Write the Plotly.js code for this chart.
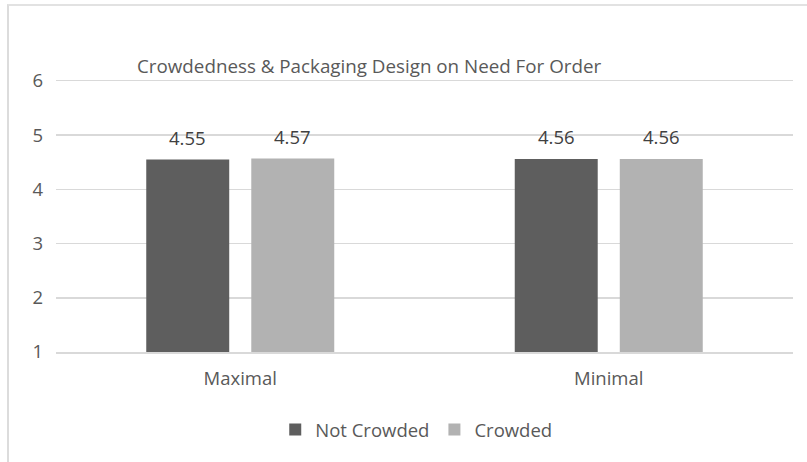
<!DOCTYPE html>
<html>
<head>
<meta charset="utf-8">
<script src="https://cdn.plot.ly/plotly-3.0.1.min.js"></script>
<style>
  html, body { margin: 0; padding: 0; background: #ffffff; }
  #wrap { position: relative; width: 807px; height: 462px; overflow: hidden; }
  #chart { position: absolute; left: 0; top: 0; width: 807px; height: 462px; }
  #frame { position: absolute; left: 7px; top: 4px; right: -4px; bottom: -4px;
           border-left: 2px solid #dcdcdc; border-top: 2px solid #e2e2e2; pointer-events: none; }
</style>
</head>
<body>
<div id="wrap">
  <div id="chart"></div>
  <div id="frame"></div>
</div>
<script>
// Packaging design categories and need-for-order means by crowdedness condition
const categories = ['Maximal', 'Minimal'];
const notCrowded = [4.55, 4.56];
const crowded = [4.57, 4.56];
const seriesNames = ['Not Crowded', 'Crowded'];
const yTicks = [1, 2, 3, 4, 5, 6];

const FONT = 'Open Sans, Noto Sans, sans-serif';
const TEXT = '#595959';
const colors = ['#5e5e5e', '#b2b2b2'];
const seriesValues = [notCrowded, crowded];

const traces = seriesValues.map((vals, i) => ({
  type: 'bar',
  name: seriesNames[i],
  x: categories,
  y: vals,
  base: 0,
  marker: { color: colors[i], line: { width: 0 } },
  hoverinfo: 'skip'
}));

// value labels above each bar, offset to its slot within the group
const slotShift = [-52.5, 52.5];
const annotations = [];
seriesValues.forEach((vals, i) => {
  vals.forEach((v, j) => {
    annotations.push({
      x: categories[j], y: v, xref: 'x', yref: 'y',
      text: v.toFixed(2), showarrow: false,
      xanchor: 'center', yanchor: 'bottom',
      xshift: slotShift[i], yshift: 8,
      font: { family: FONT, size: 18.5, color: '#404040' }
    });
  });
});

const layout = {
  width: 807, height: 462,
  margin: { l: 56, r: 14, t: 81, b: 110, pad: 0 },
  paper_bgcolor: 'rgba(0,0,0,0)',
  plot_bgcolor: '#ffffff',
  font: { family: FONT, color: TEXT },
  title: {
    text: 'Crowdedness & Packaging Design on Need For Order',
    x: 137 / 807, xanchor: 'left', xref: 'container',
    y: 1 - 66 / 462, yanchor: 'middle', yref: 'container',
    font: { family: FONT, size: 18.8, color: TEXT }
  },
  barmode: 'group',
  bargap: 0.43,
  bargroupgap: 0.21,
  xaxis: {
    type: 'category',
    showgrid: false, zeroline: false,
    showline: true, mirror: true, linecolor: '#d9d9d9', linewidth: 1.5,
    ticks: '', ticklabelstandoff: 9,
    tickfont: { family: FONT, size: 18.5, color: TEXT },
    fixedrange: true
  },
  yaxis: {
    range: [1, 6],
    tickvals: yTicks, ticktext: yTicks.map(String),
    showgrid: true, gridcolor: '#d9d9d9', gridwidth: 1.5,
    zeroline: false, showline: false,
    ticks: '', ticklabelstandoff: 12,
    tickfont: { family: FONT, size: 18.5, color: TEXT },
    fixedrange: true
  },
  showlegend: true,
  legend: {
    orientation: 'h',
    x: (416 - 56) / 736.5, xanchor: 'center',
    y: (352 - 430) / 271, yanchor: 'middle',
    font: { family: FONT, size: 18.5, color: TEXT },
    itemclick: false, itemdoubleclick: false,
    traceorder: 'normal'
  },
  annotations: annotations
};

Plotly.newPlot('chart', traces, layout, { displayModeBar: false, staticPlot: true });
</script>
</body>
</html>
